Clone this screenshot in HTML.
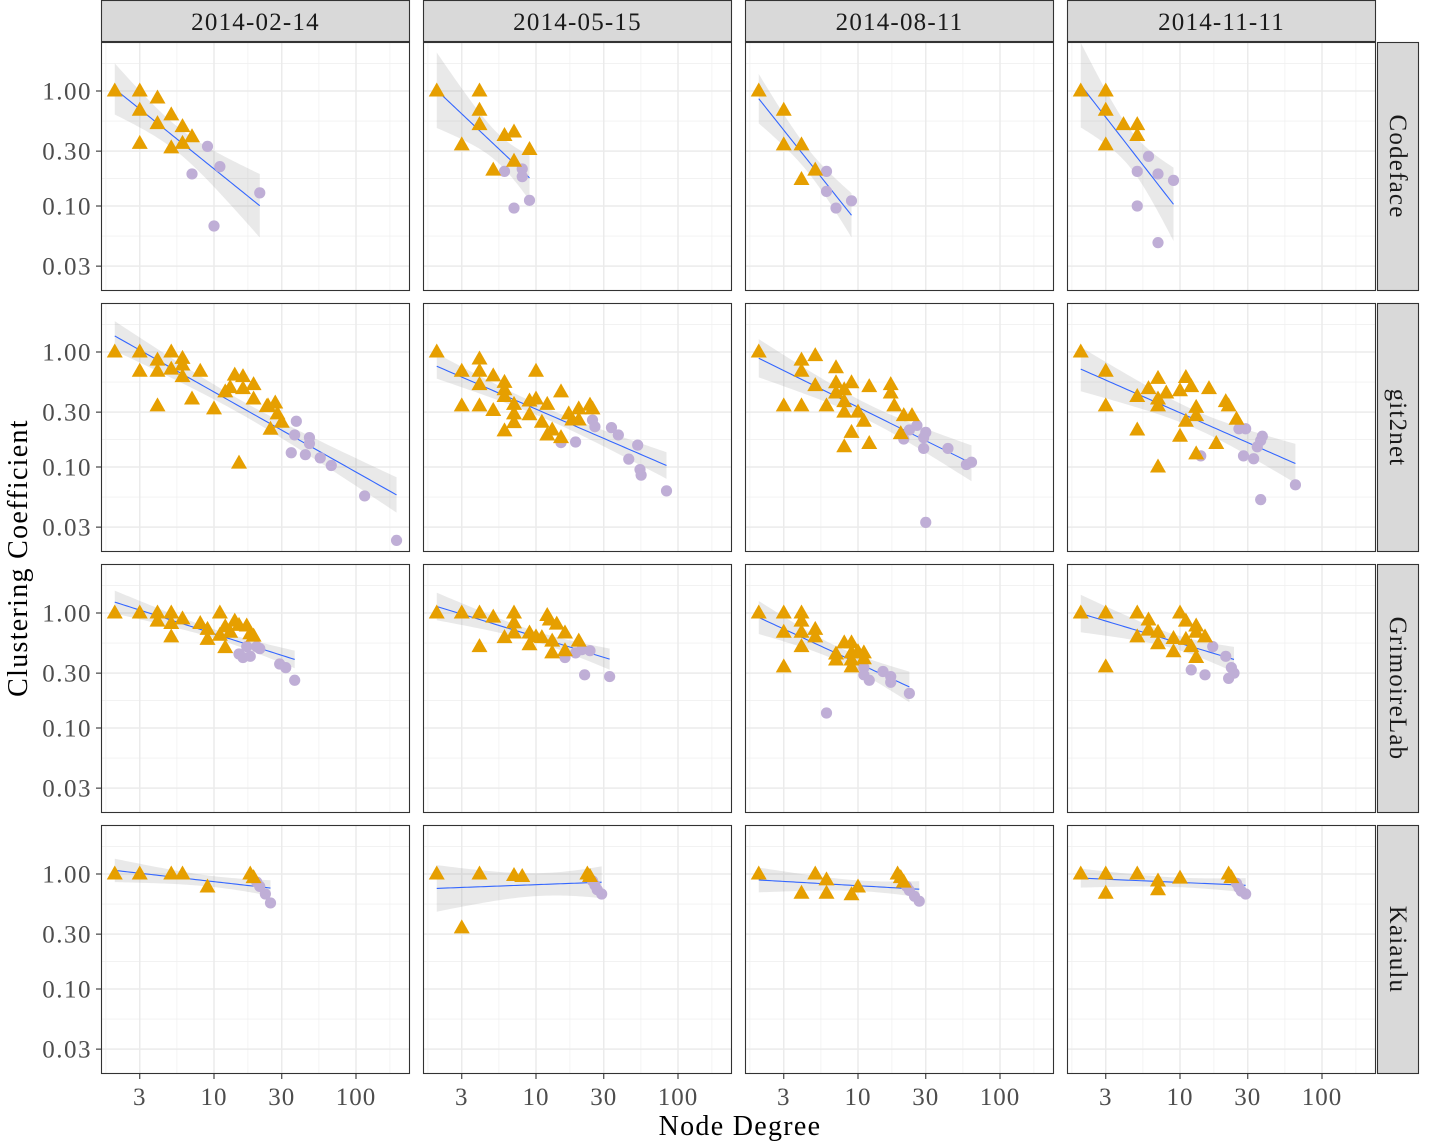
<!DOCTYPE html>
<html><head><meta charset="utf-8"><title>Clustering Coefficient vs Node Degree</title>
<style>
html,body{margin:0;padding:0;background:#fff;}
svg{display:block;font-family:"Liberation Serif",serif;}
</style></head>
<body>
<svg id="chart" width="1437" height="1142" viewBox="0 0 1437 1142" xmlns="http://www.w3.org/2000/svg"></svg>
<script>
// ---- data (degree, clustering coefficient) ----
const dates = ["2014-02-14","2014-05-15","2014-08-11","2014-11-11"];
const projects = ["Codeface","git2net","GrimoireLab","Kaiaulu"];
const xTicks = [3,10,30,100];
const xTickLabels = ["3","10","30","100"];
const yTicks = [1,0.3,0.1,0.03];
const yTickLabels = ["1.00","0.30","0.10","0.03"];

const codeface0214Tri = [[2,1],[3,1],[3,0.68],[3,0.35],[4,0.87],[4,0.52],[5,0.62],[5,0.32],[6,0.49],[6,0.35],[7,0.4]];
const codeface0214Circ = [[7,0.19],[9,0.33],[10,0.067],[11,0.22],[21,0.13]];
const codeface0515Tri = [[2,1],[4,1],[4,0.68],[4,0.51],[3,0.34],[6,0.41],[7,0.44],[9,0.31],[7,0.245],[5,0.205]];
const codeface0515Circ = [[6,0.2],[8,0.21],[8,0.18],[9,0.112],[7,0.096]];
const codeface0811Tri = [[2,1],[3,0.68],[3,0.34],[4,0.34],[5,0.205],[4,0.17]];
const codeface0811Circ = [[6,0.2],[6,0.134],[7,0.096],[9,0.111]];
const codeface1111Tri = [[2,1],[3,1],[3,0.68],[4,0.51],[5,0.51],[5,0.41],[3,0.34]];
const codeface1111Circ = [[6,0.27],[5,0.2],[7,0.19],[9,0.167],[5,0.1],[7,0.048]];

const git2net0214Tri = [[2,1],[3,1],[3,0.68],[4,0.85],[4,0.68],[4,0.34],[5,1],[5,0.71],[6,0.88],[6,0.77],[6,0.61],[7,0.39],[8,0.68],[10,0.32],[12,0.45],[13,0.49],[14,0.63],[16,0.61],[16,0.48],[15,0.108],[19,0.52],[19,0.39],[24,0.34],[27,0.36],[28,0.29],[30,0.245],[25,0.213],[23.5,0.335]];
const git2net0214Circ = [[38,0.25],[37,0.19],[47,0.18],[47,0.16],[35,0.133],[44,0.128],[56,0.12],[67,0.103],[115,0.056],[193,0.023]];
const git2net0515Tri = [[2,1],[3,0.68],[3,0.34],[4,0.87],[4,0.68],[4,0.52],[4,0.34],[5,0.62],[5,0.31],[6,0.545],[6,0.47],[6,0.41],[6,0.206],[7,0.35],[7,0.29],[7,0.243],[9,0.375],[9,0.285],[10,0.68],[10,0.39],[11,0.245],[12,0.35],[12,0.19],[13,0.21],[15,0.45],[15,0.18],[17,0.29],[18,0.256],[20,0.32],[20,0.256],[24,0.345],[25,0.32]];
const git2net0515Circ = [[25,0.256],[26,0.224],[15,0.163],[19,0.165],[34,0.22],[38,0.19],[52,0.155],[45,0.117],[54,0.095],[55,0.085],[83,0.062]];
const git2net0811Tri = [[2,1],[4,0.85],[5,0.93],[4,0.68],[7,0.73],[5,0.51],[7,0.54],[9,0.54],[8,0.47],[7,0.44],[12,0.5],[17,0.52],[17,0.44],[8,0.37],[3,0.34],[4,0.34],[6,0.34],[8,0.3],[10,0.3],[18,0.34],[21,0.28],[24,0.28],[11,0.25],[9,0.2],[20,0.195],[8,0.15],[12,0.16]];
const git2net0811Circ = [[21,0.175],[23,0.21],[26,0.23],[30,0.2],[29,0.18],[29,0.145],[43,0.145],[58,0.105],[63,0.11],[30,0.033]];
const git2net1111Tri = [[2,1],[3,0.68],[3,0.34],[7,0.59],[6,0.48],[8,0.44],[10,0.46],[11,0.6],[12,0.5],[16,0.48],[5,0.41],[7,0.39],[7,0.34],[13,0.33],[13,0.28],[21,0.37],[22,0.34],[25,0.26],[11,0.25],[5,0.21],[10,0.185],[18,0.16],[13,0.13],[7,0.1]];
const git2net1111Circ = [[26,0.215],[29,0.215],[38,0.185],[37,0.17],[35,0.15],[14,0.125],[28,0.125],[33,0.118],[65,0.07],[37,0.052]];

const grimoire0214Tri = [[2,1],[3,1],[4,1],[5,1],[4,0.85],[5,0.81],[6,0.89],[5,0.62],[8,0.81],[9,0.72],[9,0.59],[11,1],[11,0.64],[12,0.76],[14,0.85],[15,0.78],[13,0.68],[17,0.77],[18,0.66],[19,0.63],[12,0.5]];
const grimoire0214Circ = [[15,0.44],[16,0.41],[18,0.42],[17,0.51],[20,0.51],[21,0.49],[29,0.36],[32,0.335],[37,0.26]];
const grimoire0515Tri = [[2,1],[3,1],[4,1],[5,0.92],[7,1],[7,0.82],[12,0.95],[12.5,0.87],[14,0.8],[16,0.67],[6,0.61],[7,0.67],[9,0.67],[10,0.62],[11,0.61],[13,0.57],[4,0.51],[9,0.53],[13,0.45],[16,0.47],[20,0.57]];
const grimoire0515Circ = [[16,0.41],[19,0.45],[21,0.48],[24,0.47],[22,0.29],[33,0.28]];
const grimoire0811Tri = [[2,1],[3,1],[4,1],[4,0.85],[3,0.68],[4,0.68],[5,0.72],[5,0.62],[4,0.51],[3,0.34],[8,0.55],[9,0.55],[7,0.44],[7,0.39],[9,0.45],[9,0.39],[9,0.34],[10,0.46],[11,0.45],[11,0.4]];
const grimoire0811Circ = [[11,0.335],[11,0.29],[12,0.26],[15,0.31],[17,0.28],[17,0.25],[23,0.2],[6,0.135]];
const grimoire1111Tri = [[2,1],[3,1],[5,1],[6,0.87],[6,0.71],[7,0.68],[5,0.62],[10,1],[11,0.85],[13,0.77],[13,0.68],[15,0.62],[9,0.6],[11,0.59],[12,0.51],[7,0.54],[9,0.46],[13,0.41],[3,0.34]];
const grimoire1111Circ = [[17,0.51],[21,0.42],[23,0.335],[24,0.3],[22,0.27],[12,0.32],[15,0.29]];

const kaiaulu0214Tri = [[2,1],[3,1],[5,1],[6,1],[9,0.77],[18,1],[19,0.93]];
const kaiaulu0214Circ = [[20,0.85],[21,0.78],[23,0.67],[25,0.56]];
const kaiaulu0515Tri = [[2,1],[4,1],[3,0.34],[7,0.97],[8,0.95],[23,1],[24,0.95]];
const kaiaulu0515Circ = [[25,0.87],[26,0.8],[27,0.73],[29,0.67]];
const kaiaulu0811Tri = [[2,1],[5,1],[6,0.89],[4,0.68],[6,0.68],[10,0.77],[9,0.66],[19,1],[20,0.93],[21,0.85]];
const kaiaulu0811Circ = [[22,0.78],[23,0.72],[25,0.64],[27,0.58]];
const kaiaulu1111Tri = [[2,1],[3,1],[5,1],[3,0.68],[7,0.87],[7,0.73],[10,0.92],[22,1],[23,0.93]];
const kaiaulu1111Circ = [[25,0.83],[26,0.76],[27,0.71],[29,0.67]];

const panelTri = [
  [codeface0214Tri,codeface0515Tri,codeface0811Tri,codeface1111Tri],
  [git2net0214Tri,git2net0515Tri,git2net0811Tri,git2net1111Tri],
  [grimoire0214Tri,grimoire0515Tri,grimoire0811Tri,grimoire1111Tri],
  [kaiaulu0214Tri,kaiaulu0515Tri,kaiaulu0811Tri,kaiaulu1111Tri]];
const panelCirc = [
  [codeface0214Circ,codeface0515Circ,codeface0811Circ,codeface1111Circ],
  [git2net0214Circ,git2net0515Circ,git2net0811Circ,git2net1111Circ],
  [grimoire0214Circ,grimoire0515Circ,grimoire0811Circ,grimoire1111Circ],
  [kaiaulu0214Circ,kaiaulu0515Circ,kaiaulu0811Circ,kaiaulu1111Circ]];

// ---- layout ----
const NS = "http://www.w3.org/2000/svg";
const svg = document.getElementById("chart");
const colLeft = [101,423,745,1067], rowTop = [42,303,564,825];
const PW = 309, PH = 249;
function xScale(v,c){ return colLeft[c] + 113 + (Math.log10(v)-1)*142; }
function yScale(v,r){ return rowTop[r] + 49 - Math.log10(v)*115; }
function mk(tag, attrs, parent){
  const e = document.createElementNS(NS, tag);
  for (const k in attrs) e.setAttribute(k, attrs[k]);
  (parent||svg).appendChild(e); return e;
}
function tq(df){ const t={1:12.71,2:4.30,3:3.18,4:2.78,5:2.57,6:2.45,7:2.36,8:2.31,9:2.26,10:2.23,12:2.18,15:2.13,20:2.09,30:2.04};
  if (df>=30) return 2.02; let best=2.04; for (const k in t){ if (+k<=df) best=t[k]; } return best; }

const minorX = [Math.sqrt(3),Math.sqrt(30),Math.sqrt(300),Math.sqrt(3000),Math.sqrt(30000)];
const minorY = [Math.sqrt(3),Math.sqrt(0.3),Math.sqrt(0.03),Math.sqrt(0.003)];

for (let r=0;r<4;r++){
  for (let c=0;c<4;c++){
    const g = mk("g",{});
    
    
    const L=colLeft[c], T=rowTop[r];
    mk("rect",{x:L,y:T,width:PW,height:PH,fill:"#fff"},g);
    const clipId = "clip"+r+c;
    const cp = mk("clipPath",{id:clipId},g);
    mk("rect",{x:L,y:T,width:PW,height:PH},cp);
    const inner = mk("g",{"clip-path":"url(#"+clipId+")"},g);
    minorX.forEach(v=>{ const x=xScale(v,c); mk("line",{x1:x,x2:x,y1:T,y2:T+PH,stroke:"#f0f0f0","stroke-width":0.8},inner); });
    minorY.forEach(v=>{ const y=yScale(v,r); mk("line",{x1:L,x2:L+PW,y1:y,y2:y,stroke:"#f0f0f0","stroke-width":0.8},inner); });
    xTicks.forEach(v=>{ const x=xScale(v,c); mk("line",{x1:x,x2:x,y1:T,y2:T+PH,stroke:"#ebebeb","stroke-width":1.5},inner); });
    yTicks.forEach(v=>{ const y=yScale(v,r); mk("line",{x1:L,x2:L+PW,y1:y,y2:y,stroke:"#ebebeb","stroke-width":1.5},inner); });

    // regression on log-log
    const pts = panelTri[r][c].concat(panelCirc[r][c]);
    const X = pts.map(p=>Math.log10(p[0])), Y = pts.map(p=>Math.log10(p[1]));
    const n = X.length, xb = X.reduce((a,b)=>a+b,0)/n, yb = Y.reduce((a,b)=>a+b,0)/n;
    let sxx=0,sxy=0; for(let i=0;i<n;i++){ sxx+=(X[i]-xb)**2; sxy+=(X[i]-xb)*(Y[i]-yb); }
    const b1 = sxy/sxx, b0 = yb-b1*xb;
    let sse=0; for(let i=0;i<n;i++){ sse+=(Y[i]-b0-b1*X[i])**2; }
    const s = Math.sqrt(sse/(n-2)), t = tq(n-2);
    const xmin = Math.min(...X), xmax = Math.max(...X);
    const up=[], lo=[], mid=[];
    for (let k=0;k<=60;k++){
      const lx = xmin + (xmax-xmin)*k/60;
      const fit = b0+b1*lx, se = s*Math.sqrt(1/n + (lx-xb)**2/sxx);
      const px = xScale(Math.pow(10,lx),c);
      mid.push(px+","+yScale(Math.pow(10,fit),r));
      up.push(px+","+yScale(Math.pow(10,fit+t*se),r));
      lo.push(px+","+yScale(Math.pow(10,fit-t*se),r));
    }
    const band = mk("polygon",{points:up.concat(lo.reverse()).join(" "),fill:"#999999","fill-opacity":0.22},inner);
    
    
    const line = mk("polyline",{points:mid.join(" "),fill:"none",stroke:"#3366FF","stroke-width":1.1},inner);
    
    

    panelCirc[r][c].forEach(p=>{
      const el = mk("circle",{cx:xScale(p[0],c),cy:yScale(p[1],r),r:5.6,fill:"#bfaed6"},inner);
      
      
    });
    panelTri[r][c].forEach(p=>{
      const x=xScale(p[0],c), y=yScale(p[1],r);
      const el = mk("polygon",{points:`${x},${y-8.5} ${x-8},${y+5.5} ${x+8},${y+5.5}`,fill:"#E69F00"},inner);
      
      
    });
    mk("rect",{x:L+0.5,y:T+0.5,width:PW-1,height:PH-1,fill:"none",stroke:"#333","stroke-width":1.1},g);
  }
}

// top strips
dates.forEach((d,c)=>{
  const g = mk("g",{});
  
  
  mk("rect",{x:colLeft[c]+0.5,y:0.5,width:PW-1,height:41,fill:"#d9d9d9",stroke:"#333","stroke-width":1.1},g);
  const tx = mk("text",{x:colLeft[c]+PW/2,y:30,"text-anchor":"middle","font-size":25,"letter-spacing":1.2,fill:"#1a1a1a"},g);
  tx.textContent = d;
});
// right strips
projects.forEach((p,r)=>{
  const g = mk("g",{});
  
  
  mk("rect",{x:1377.5,y:rowTop[r]+0.5,width:41,height:PH-1,fill:"#d9d9d9",stroke:"#333","stroke-width":1.1},g);
  const cy = rowTop[r]+PH/2;
  const tx = mk("text",{x:1390,y:cy,"text-anchor":"middle","font-size":25,"letter-spacing":1.2,fill:"#1a1a1a",transform:`rotate(90 1390 ${cy})`},g);
  tx.textContent = p;
});
// y axis ticks
for (let r=0;r<4;r++){
  yTicks.forEach((v,i)=>{
    const y=yScale(v,r);
    mk("line",{x1:96,x2:101,y1:y,y2:y,stroke:"#333","stroke-width":1.1});
    const tx = mk("text",{x:92,y:y+8.5,"text-anchor":"end","font-size":25,"letter-spacing":1.5,fill:"#4d4d4d"});
    
    
    tx.textContent = yTickLabels[i];
  });
}
// x axis ticks
for (let c=0;c<4;c++){
  xTicks.forEach((v,i)=>{
    const x=xScale(v,c);
    mk("line",{x1:x,x2:x,y1:1074,y2:1079,stroke:"#333","stroke-width":1.1});
    const tx = mk("text",{x:x,y:1105,"text-anchor":"middle","font-size":25,"letter-spacing":1,fill:"#4d4d4d"});
    
    
    tx.textContent = xTickLabels[i];
  });
}
const xt = mk("text",{x:740,y:1135,"text-anchor":"middle","font-size":28,"letter-spacing":1.3,fill:"#000"});


xt.textContent = "Node Degree";
const yt = mk("text",{x:27,y:558,"text-anchor":"middle","font-size":28,"letter-spacing":1.3,fill:"#000",transform:"rotate(-90 27 558)"});


yt.textContent = "Clustering Coefficient";
</script>
</body></html>
